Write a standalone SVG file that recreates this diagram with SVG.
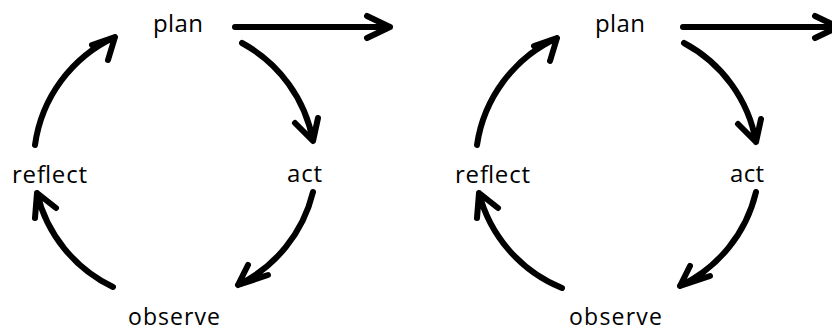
<svg xmlns="http://www.w3.org/2000/svg" width="832" height="331" viewBox="0 0 832 331">
<style>
  .lbl { font-family: "Open Sans", "Liberation Sans", sans-serif; font-size: 24px; fill: #000; }
  .low { font-size: 23px; }
  .c { fill: none; stroke: #000; stroke-width: 6; stroke-linecap: round; stroke-linejoin: round; }
</style>
<rect width="832" height="331" fill="#fff"/>
<g id="left-plan"><text class="lbl" x="153" y="32" textLength="50" lengthAdjust="spacing">plan</text></g>
<g id="left-act"><text class="lbl" x="287" y="182" textLength="35" lengthAdjust="spacing">act</text></g>
<g id="left-observe"><text class="lbl low" x="128" y="324.5" textLength="92" lengthAdjust="spacing">observe</text></g>
<g id="left-reflect"><text class="lbl" x="12" y="182.5" textLength="75" lengthAdjust="spacing">reflect</text></g>
<g id="right-plan"><text class="lbl" x="595" y="32" textLength="50" lengthAdjust="spacing">plan</text></g>
<g id="right-act"><text class="lbl" x="730" y="182" textLength="34" lengthAdjust="spacing">act</text></g>
<g id="right-observe"><text class="lbl low" x="569" y="324.5" textLength="93" lengthAdjust="spacing">observe</text></g>
<g id="right-reflect"><text class="lbl" x="455" y="182.5" textLength="75" lengthAdjust="spacing">reflect</text></g>
<g id="connectors">
  <path class="c" d="M35,145 A140,140 0 0 1 115,37 M92,45 L115,37 L108,60"/>
  <path class="c" d="M242,43 A140,140 0 0 1 313,141 M295,123 L313,141 L318,118"/>
  <path class="c" d="M313,192 A140,140 0 0 1 238,285 M248,265 L238,285 L268,275"/>
  <path class="c" d="M113,287 A140,140 0 0 1 37,193 M35,218 L37,193 L56,208"/>
  <path class="c" d="M235,27 L390,27 M367,16 L390,27 L367,38"/>
  <path class="c" d="M477,145 A140,140 0 0 1 557,38 M534,46 L557,38 L550,61"/>
  <path class="c" d="M684,43 A140,140 0 0 1 756,142 M738,124 L756,142 L761,119"/>
  <path class="c" d="M756,192 A140,140 0 0 1 680,286 M690,266 L680,286 L710,276"/>
  <path class="c" d="M562,288 A140,140 0 0 1 479,193 M477,218 L479,193 L498,208"/>
  <path class="c" d="M683,27 L838,27 M815,16 L838,27 L815,38"/>
</g>
</svg>
